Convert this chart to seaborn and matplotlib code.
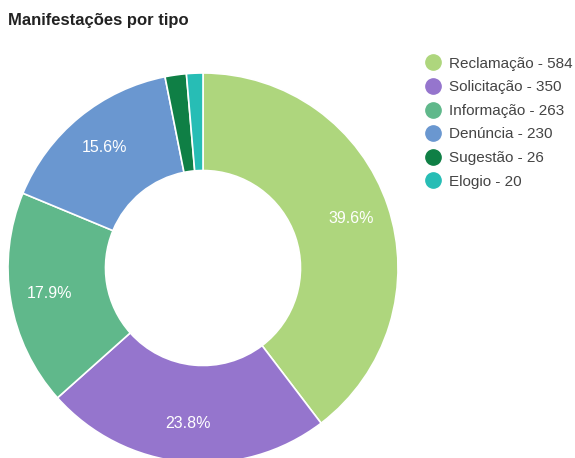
import matplotlib
matplotlib.use("Agg")
import matplotlib.pyplot as plt
import seaborn as sns
from matplotlib.lines import Line2D

categories = ["Reclamação", "Solicitação", "Informação", "Denúncia", "Sugestão", "Elogio"]
values = [584, 350, 263, 230, 26, 20]
colors = ["#AED67D", "#9575CD", "#60B88B", "#6A97D0", "#0F7F45", "#27BDB5"]

sns.set_theme(style="white")
plt.rcParams['font.family'] = ['Liberation Sans', 'DejaVu Sans']

W, H = 575, 458
fig = plt.figure(figsize=(W / 100, H / 100), dpi=100)
cx, cy, r = 203, 268, 195
ax = fig.add_axes([(cx - r) / W, (H - cy - r) / H, 2 * r / W, 2 * r / H])

palette = sns.color_palette(colors)

def fmt(p):
    return f"{p:.1f}%" if p > 5 else ""

wedges, texts, autotexts = ax.pie(
    values, colors=palette, startangle=90, counterclock=False,
    radius=1.0, autopct=fmt, pctdistance=0.80,
    wedgeprops=dict(width=0.5, edgecolor="white", linewidth=1.2),
    textprops=dict(color="white", fontsize=11.5),
)
ax.set_xlim(-1, 1)
ax.set_ylim(-1, 1)
ax.set_aspect("equal")
ax.axis("off")

fig.text(8 / W, 1 - 20 / H, "Manifestações por tipo", fontsize=12, fontweight="bold",
         color="#222222", va="center", ha="left")

handles = [Line2D([0], [0], marker="o", linestyle="none", markersize=11,
                  markerfacecolor=c, markeredgecolor=c) for c in colors]
labels = [f"{c} - {v}" for c, v in zip(categories, values)]
leg = fig.legend(handles, labels, loc="upper left", bbox_to_anchor=(418 / W, 1 - 50.5 / H),
                 frameon=False, fontsize=11, handletextpad=0.45, labelspacing=0.63,
                 handlelength=1.2, borderaxespad=0)
for t in leg.get_texts():
    t.set_color("#444444")

fig.savefig("out.png", dpi=100)
